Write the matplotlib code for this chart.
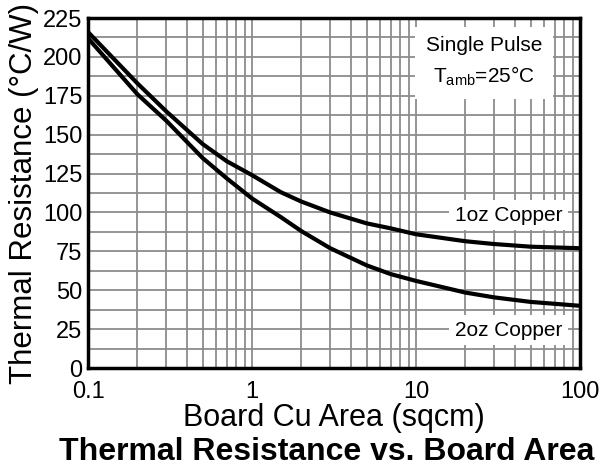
import matplotlib.pyplot as plt
import numpy as np
from matplotlib.ticker import LogLocator, MultipleLocator, FixedLocator, FixedFormatter

plt.rcParams['font.family'] = ['Liberation Sans', 'DejaVu Sans']

# board copper area, sqcm
area = [0.1, 0.2, 0.3, 0.5, 0.7, 1, 1.5, 2, 3, 5, 7, 10, 20, 30, 50, 100]
# thermal resistance, C/W
r_1oz = [216, 183, 165, 144, 133, 124, 113, 107, 100, 93, 89.8, 86, 81.5, 79.7, 78, 77]
r_2oz = [212, 176, 159, 135, 122, 109, 97, 88, 77, 66, 60.4, 56, 48.5, 45.4, 42.5, 40]

x_ticks = [0.1, 1, 10, 100]
x_ticklabels = ["0.1", "1", "10", "100"]

fig = plt.figure(figsize=(6.0, 4.72), dpi=100)
ax = fig.add_axes([0.1467, 0.2203, 0.82, 0.7415])

ax.plot(area, r_1oz, color='black', linewidth=3, zorder=3)
ax.plot(area, r_2oz, color='black', linewidth=3, zorder=3)

ax.set_xscale('log')
ax.set_xlim(0.1, 100)
ax.set_ylim(0, 225)
ax.xaxis.set_major_locator(FixedLocator(x_ticks))
ax.xaxis.set_major_formatter(FixedFormatter(x_ticklabels))
ax.xaxis.set_minor_locator(LogLocator(base=10, subs=np.arange(2, 10)))
ax.xaxis.set_minor_formatter(plt.NullFormatter())
ax.yaxis.set_major_locator(MultipleLocator(25))
ax.yaxis.set_minor_locator(MultipleLocator(12.5))
ax.tick_params(which='both', length=0, labelsize=17)
ax.tick_params(axis='x', pad=9)
ax.tick_params(axis='y', pad=4)

ax.grid(True, which='both', color='#8c8c8c', linewidth=1.3, zorder=1)
for s in ax.spines.values():
    s.set_linewidth(2.5)
    s.set_zorder(4)

box = dict(facecolor='white', edgecolor='none', pad=4)
ax.text(0.805, 0.875, "Single Pulse\nT$_{\\mathregular{amb}}$=25°C", transform=ax.transAxes,
        ha='center', va='center', fontsize=15, linespacing=1.5,
        bbox=dict(facecolor='white', edgecolor='none', pad=8), zorder=2)
ax.text(0.855, 0.437, "1oz Copper", transform=ax.transAxes, ha='center', va='center',
        fontsize=15, bbox=box, zorder=2)
ax.text(0.855, 0.108, "2oz Copper", transform=ax.transAxes, ha='center', va='center',
        fontsize=15, bbox=box, zorder=2)

ax.set_xlabel("Board Cu Area (sqcm)", fontsize=22, labelpad=0)
ax.set_ylabel("Thermal Resistance (°C/W)", fontsize=22.5, labelpad=3)

fig.text(0.545, 0.042, "Thermal Resistance vs. Board Area", ha='center', va='center',
         fontsize=23, fontweight='bold')

fig.savefig('out.png', dpi=100)
